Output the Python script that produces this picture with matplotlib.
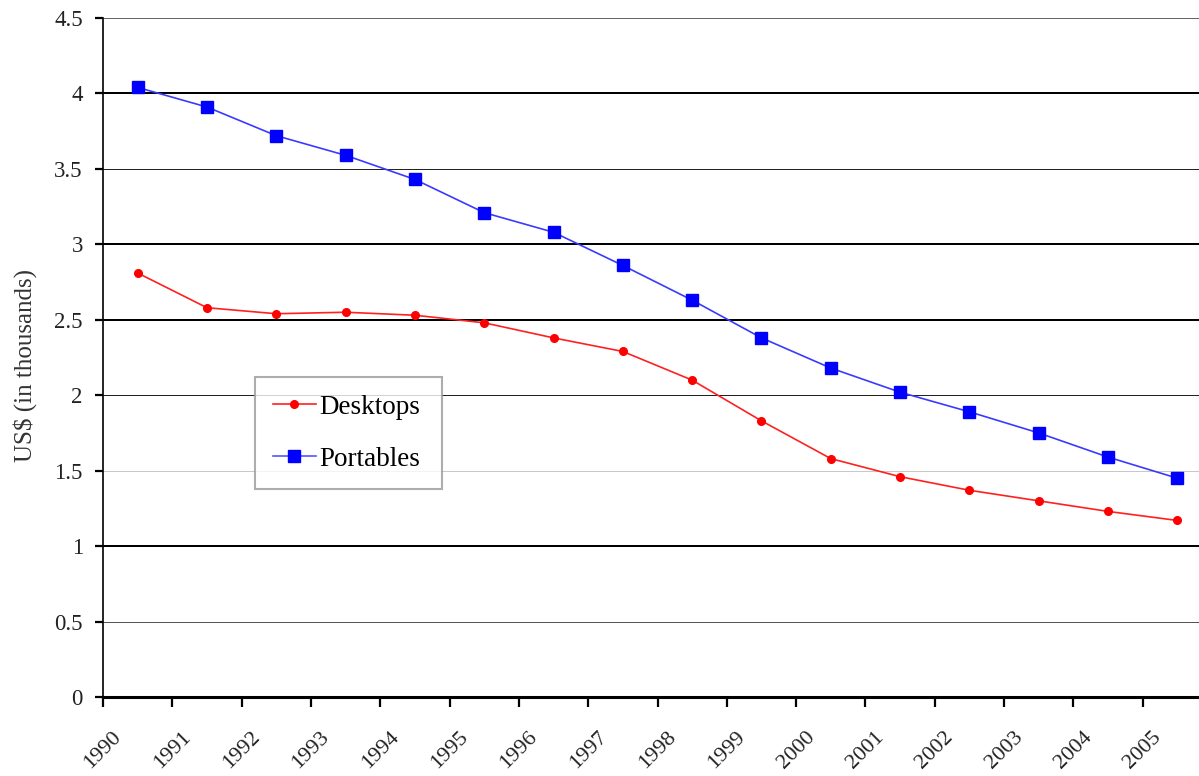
import matplotlib
matplotlib.use("Agg")
import matplotlib.pyplot as plt
from matplotlib.lines import Line2D

years = [str(y) for y in range(1990, 2006)]
desktops = [2.81, 2.58, 2.54, 2.55, 2.53, 2.48, 2.38, 2.29, 2.10, 1.83,
            1.58, 1.46, 1.37, 1.30, 1.23, 1.17]
portables = [4.04, 3.91, 3.72, 3.59, 3.43, 3.21, 3.08, 2.86, 2.63, 2.38,
             2.18, 2.02, 1.89, 1.75, 1.59, 1.45]
y_ticks = [0, 0.5, 1, 1.5, 2, 2.5, 3, 3.5, 4, 4.5]
y_tick_labels = ["0", "0.5", "1", "1.5", "2", "2.5", "3", "3.5", "4", "4.5"]

plt.rcParams["font.family"] = ["Liberation Serif", "DejaVu Serif"]

fig = plt.figure(figsize=(11.99, 7.76), dpi=100)
ax = fig.add_axes([103 / 1199, 79 / 776, 1109 / 1199, 679 / 776])

n = len(years)
xs = [i + 0.5 for i in range(n)]

# horizontal gridlines (rendered with uneven weights)
grid_style = {
    0.5: (1.0, "#555555"), 1: (2.0, "#000000"), 1.5: (1.0, "#c8c8c8"),
    2: (1.0, "#222222"), 2.5: (2.0, "#000000"), 3: (2.0, "#000000"),
    3.5: (1.0, "#222222"), 4: (2.0, "#000000"), 4.5: (1.0, "#666666"),
}
for v in y_ticks[1:]:
    lw, col = grid_style[v]
    ax.axhline(v, color=col, linewidth=lw * 0.72, zorder=1)

ax.plot(xs, desktops, color="#ff2020", linewidth=1.2, marker="o",
        markersize=5.5, markerfacecolor="#ff0000", markeredgecolor="#ff0000",
        zorder=3, label="Desktops")
ax.plot(xs, portables, color="#3a3aff", linewidth=1.2, marker="s",
        markersize=8.5, markerfacecolor="#0000ff", markeredgecolor="#0000ff",
        zorder=3, label="Portables")

ax.set_xlim(0, n)
ax.set_ylim(0, 4.5)
ax.set_xticks(range(n))
ax.set_xticklabels(years, rotation=45, ha="center", va="top", fontsize=16,
                   color="#222222")
ax.set_yticks(y_ticks)
ax.set_yticklabels(y_tick_labels, fontsize=16.5, color="#222222")

ax.tick_params(axis="x", direction="out", length=7.2, width=1.6, pad=15)
ax.tick_params(axis="y", direction="out", length=5.5, width=1.6, pad=9)

for side in ("top", "right"):
    ax.spines[side].set_visible(False)
ax.spines["left"].set_linewidth(1.2)
ax.spines["bottom"].set_linewidth(2.2)

fig.text(25 / 1199, 1 - 366 / 776, "US$ (in thousands)", rotation=90,
         ha="center", va="center", fontsize=18, color="#333333")

handles = [
    Line2D([], [], color="#ff2020", linewidth=1.2, marker="o", markersize=5.5,
           markerfacecolor="#ff0000", markeredgecolor="#ff0000"),
    Line2D([], [], color="#5555ff", linewidth=1.2, marker="s", markersize=8.5,
           markerfacecolor="#0000ff", markeredgecolor="#0000ff"),
]
leg = ax.legend(handles, ["Desktops", "Portables"], loc="upper left",
                bbox_to_anchor=((255 - 103) / 1109, (697 - 377) / 679,
                                (442 - 255) / 1109, 0.0),
                mode="expand",
                fontsize=19.5, frameon=True, fancybox=False, shadow=False,
                handlelength=1.6, handletextpad=0.12, labelspacing=1.0,
                borderpad=0.65, borderaxespad=0)
leg.get_frame().set_edgecolor("#999999")
leg.get_frame().set_linewidth(1.5)
leg.set_zorder(5)

fig.savefig("out.png", dpi=100)
